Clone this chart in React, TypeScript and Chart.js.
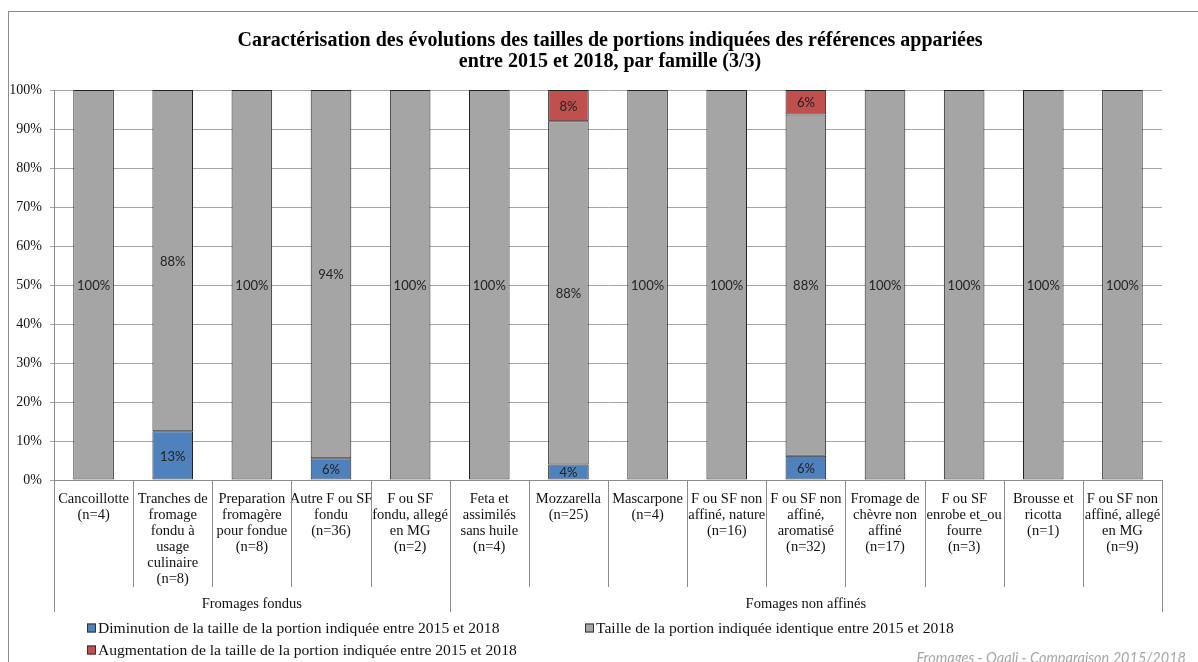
import React, { useEffect, useRef } from "react";
import { Chart, registerables } from "chart.js";

Chart.register(...registerables);

const titleLines = [
  "Caractérisation des évolutions des tailles de portions indiquées des références appariées",
  "entre 2015 et 2018, par famille (3/3)",
];

const categories: string[][] = [
  ["Cancoillotte", "(n=4)"],
  ["Tranches de", "fromage", "fondu à", "usage", "culinaire", "(n=8)"],
  ["Preparation", "fromagère", "pour fondue", "(n=8)"],
  ["Autre F ou SF", "fondu", "(n=36)"],
  ["F ou SF", "fondu, allegé", "en MG", "(n=2)"],
  ["Feta et", "assimilés", "sans huile", "(n=4)"],
  ["Mozzarella", "(n=25)"],
  ["Mascarpone", "(n=4)"],
  ["F ou SF non", "affiné, nature", "(n=16)"],
  ["F ou SF non", "affiné,", "aromatisé", "(n=32)"],
  ["Fromage de", "chèvre non", "affiné", "(n=17)"],
  ["F ou SF", "enrobe et_ou", "fourre", "(n=3)"],
  ["Brousse et", "ricotta", "(n=1)"],
  ["F ou SF non", "affiné, allegé", "en MG", "(n=9)"],
];

const groupNames = ["Fromages fondus", "Fomages non affinés"];
const groupSizes = [5, 9];

const seriesNames = [
  "Diminution de la taille de la portion indiquée entre 2015 et 2018",
  "Taille de la portion indiquée identique entre 2015 et 2018",
  "Augmentation de la taille de la portion indiquée entre 2015 et 2018",
];
const decrease = [0, 12.5, 0, 5.56, 0, 0, 4, 0, 0, 6.25, 0, 0, 0, 0];
const identical = [100, 87.5, 100, 94.44, 100, 100, 88, 100, 100, 87.5, 100, 100, 100, 100];
const increase = [0, 0, 0, 0, 0, 0, 8, 0, 0, 6.25, 0, 0, 0, 0];
const seriesColors = ["#4F81BD", "#A5A5A5", "#C0504D"];

const footerText = "Fromages - Oqali - Comparaison 2015/2018";

const SERIF = '"Liberation Serif", serif';

const overlayPlugin = {
  id: "overlay",
  afterDraw(chart: any) {
    const ctx = chart.ctx as CanvasRenderingContext2D;
    const xs = chart.scales.x;
    const area = chart.chartArea;
    ctx.save();

    // Title
    ctx.fillStyle = "#000";
    ctx.textAlign = "center";
    ctx.textBaseline = "middle";
    ctx.font = `bold 20px ${SERIF}`;
    ctx.fillText(titleLines[0], 601, 29);
    ctx.fillText(titleLines[1], 601, 50);

    // Data labels
    ctx.font = '13px Lato, sans-serif';
    ctx.fillStyle = "#222";
    chart.data.datasets.forEach((ds: any, di: number) => {
      const meta = chart.getDatasetMeta(di);
      meta.data.forEach((el: any, i: number) => {
        const v = ds.data[i];
        if (!v) return;
        const cy = (el.y + el.base) / 2;
        ctx.fillText(Math.round(v) + "%", el.x, cy + 1);
      });
    });

    // Category labels
    ctx.font = `14.5px ${SERIF}`;
    ctx.fillStyle = "#111";
    categories.forEach((lines, i) => {
      const cx = xs.getPixelForValue(i);
      lines.forEach((t, k) => {
        ctx.fillText(t, cx, area.bottom + 19 + k * 16);
      });
    });

    // Separators
    ctx.strokeStyle = "#8c8c8c";
    ctx.lineWidth = 1;
    const groupEnds: number[] = [];
    let acc = 0;
    groupSizes.forEach((g) => {
      acc += g;
      groupEnds.push(acc);
    });
    const line = (x: number, y0: number, y1: number) => {
      const xx = Math.round(x) + 0.5;
      ctx.beginPath();
      ctx.moveTo(xx, y0);
      ctx.lineTo(xx, y1);
      ctx.stroke();
    };
    line(area.left, area.bottom, area.bottom + 132);
    for (let i = 0; i < categories.length - 1; i++) {
      const bx = (xs.getPixelForValue(i) + xs.getPixelForValue(i + 1)) / 2;
      const isGroup = groupEnds.includes(i + 1);
      line(bx, area.bottom, area.bottom + (isGroup ? 132 : 107));
    }
    line(area.right, area.bottom, area.bottom + 132);

    // Group labels
    ctx.fillStyle = "#111";
    let start = 0;
    groupSizes.forEach((g, gi) => {
      const x0 = start === 0 ? area.left : (xs.getPixelForValue(start - 1) + xs.getPixelForValue(start)) / 2;
      const end = start + g;
      const x1 = end >= categories.length ? area.right : (xs.getPixelForValue(end - 1) + xs.getPixelForValue(end)) / 2;
      ctx.fillText(groupNames[gi], (x0 + x1) / 2, area.bottom + 124);
      start = end;
    });

    // Legend
    const legendItems = [
      { x: 78, y: 616, i: 0 },
      { x: 576, y: 616, i: 1 },
      { x: 78, y: 638, i: 2 },
    ];
    ctx.textAlign = "left";
    ctx.font = `15.6px ${SERIF}`;
    legendItems.forEach((it) => {
      ctx.fillStyle = seriesColors[it.i];
      ctx.fillRect(it.x, it.y - 4.5, 9, 9);
      ctx.strokeStyle = "#333";
      ctx.strokeRect(it.x + 0.5, it.y - 4.5 + 0.5, 8, 8);
      ctx.fillStyle = "#111";
      ctx.fillText(seriesNames[it.i], it.x + 11, it.y + 1);
    });

    // Footer
    ctx.textAlign = "right";
    ctx.font = 'italic 14.5px Lato, sans-serif';
    ctx.fillStyle = "#a6a6a6";
    ctx.fillText(footerText, 1177, 646);

    ctx.restore();
  },
};

export default function App() {
  const ref = useRef<HTMLCanvasElement | null>(null);
  useEffect(() => {
    if (!ref.current) return;
    const chart = new Chart(ref.current, {
      type: "bar",
      data: {
        labels: categories.map((c) => c.join(" ")),
        datasets: [decrease, identical, increase].map((d, i) => ({
          label: seriesNames[i],
          data: d,
          backgroundColor: seriesColors[i],
          borderColor: "#222",
          borderWidth: 1,
          borderSkipped: false,
          categoryPercentage: 0.513,
          barPercentage: 1,
        })),
      },
      options: {
        responsive: false,
        devicePixelRatio: 1,
        animation: false,
        layout: { padding: { top: 78, right: 36, left: 0, bottom: 0 } },
        plugins: {
          legend: { display: false },
          title: { display: false },
          tooltip: { enabled: false },
        },
        scales: {
          x: {
            stacked: true,
            grid: { display: false },
            border: { display: true, color: "#8c8c8c" },
            ticks: { display: false },
            afterFit: (s: any) => {
              s.height = 182;
            },
          },
          y: {
            stacked: true,
            min: 0,
            max: 100,
            grid: { color: "#a6a6a6", tickLength: 4 },
            border: { display: true, color: "#8c8c8c" },
            ticks: {
              stepSize: 10,
              padding: 8,
              color: "#111",
              font: { family: "Liberation Serif", size: 14 },
              callback: (v: any) => v + "%",
            },
            afterFit: (s: any) => {
              s.width = 45;
            },
          },
        },
      },
      plugins: [overlayPlugin],
    });
    return () => chart.destroy();
  }, []);

  return (
    <div
      style={{
        position: "fixed",
        left: 8,
        top: 11,
        width: 1190,
        height: 651,
        borderLeft: "1px solid #8c8c8c",
        borderTop: "1px solid #8c8c8c",
        background: "#fff",
      }}
    >
      <canvas ref={ref} width={1189} height={650} style={{ display: "block" }} />
    </div>
  );
}
